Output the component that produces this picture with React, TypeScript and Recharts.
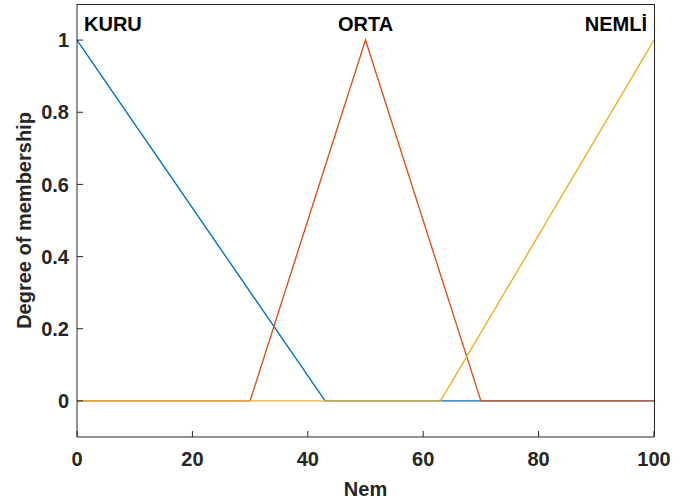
import React from 'react';
import { LineChart, Line, XAxis, YAxis, ReferenceDot, Label } from 'recharts';

// membership functions of "Nem" (breakpoints)
const kuruPoints = [
  { x: 0, y: 1 },
  { x: 43, y: 0 },
  { x: 100, y: 0 },
];
const ortaPoints = [
  { x: 0, y: 0 },
  { x: 30, y: 0 },
  { x: 50, y: 1 },
  { x: 70, y: 0 },
  { x: 100, y: 0 },
];
const nemliPoints = [
  { x: 0, y: 0 },
  { x: 63, y: 0 },
  { x: 100, y: 1 },
];

const mfNames = ['KURU', 'ORTA', 'NEML\u0130'];
const mfLabelX = [0, 50, 100];
const mfLabelAnchor = ['start', 'middle', 'end'];
const mfLabelY = 1.045;

const xDomain = [0, 100];
const yDomain = [-0.1, 1.1];
const xTicks = [0, 20, 40, 60, 80, 100];
const yTicks = [0, 0.2, 0.4, 0.6, 0.8, 1];

const INK = '#262626';
const FONT = '"Liberation Sans", Arial, Helvetica, sans-serif';

const W = 689;
const H = 501;
const MARGIN = { top: 4, right: 35, bottom: 0, left: 17 };
const Y_AXIS_W = 60;
const X_AXIS_H = 64;

export default function App() {
  const tickStyle = { fontSize: 20, fontWeight: 700, fill: INK, fontFamily: FONT };

  // plot box, used only for the top/right frame overlay
  const plotLeft = MARGIN.left + Y_AXIS_W;
  const plotTop = MARGIN.top;
  const plotW = W - plotLeft - MARGIN.right;
  const plotH = H - plotTop - X_AXIS_H - MARGIN.bottom;

  return (
    <div style={{ position: 'absolute', left: 0, top: 0, width: W, height: H, background: '#fff' }}>
      <LineChart width={W} height={H} margin={MARGIN}>
        <XAxis
          type="number"
          dataKey="x"
          domain={xDomain}
          ticks={xTicks}
          tickSize={-6}
          tickMargin={21}
          stroke={INK}
          tick={tickStyle}
          height={X_AXIS_H}
          allowDuplicatedCategory={false}
        >
          <Label
            content={(p: any) => (
              <text
                x={p.viewBox.x + p.viewBox.width / 2}
                y={p.viewBox.y + 59}
                textAnchor="middle"
                style={{ fontSize: 20, fontWeight: 700, fill: INK, fontFamily: FONT }}
              >
                Nem
              </text>
            )}
          />
        </XAxis>
        <YAxis
          type="number"
          domain={yDomain}
          ticks={yTicks}
          tickSize={-6}
          tickMargin={14}
          width={Y_AXIS_W}
          stroke={INK}
          tick={tickStyle}
        >
          <Label
            content={(p: any) => {
              const cx = 24;
              const cy = p.viewBox.y + p.viewBox.height / 2;
              return (
                <text
                  x={cx}
                  y={cy}
                  transform={`rotate(-90 ${cx} ${cy})`}
                  textAnchor="middle"
                  dominantBaseline="central"
                  style={{ fontSize: 20, fontWeight: 700, fill: INK, fontFamily: FONT }}
                >
                  Degree of membership
                </text>
              );
            }}
          />
        </YAxis>

        <Line data={kuruPoints} dataKey="y" stroke="#0072BD" strokeWidth={1.4} dot={false} isAnimationActive={false} />
        <Line data={ortaPoints} dataKey="y" stroke="#D95319" strokeWidth={1.4} dot={false} isAnimationActive={false} />
        <Line data={nemliPoints} dataKey="y" stroke="#EDB120" strokeWidth={1.4} dot={false} isAnimationActive={false} />

        {mfNames.map((name, i) => (
          <ReferenceDot
            key={name}
            x={mfLabelX[i]}
            y={mfLabelY}
            shape={(p: any) => (
              <text
                x={p.cx + (mfLabelAnchor[i] === 'start' ? 7 : mfLabelAnchor[i] === 'end' ? -7 : 0)}
                y={p.cy}
                textAnchor={mfLabelAnchor[i]}
                dominantBaseline="central"
                style={{ fontSize: 20, fontWeight: 700, fill: '#000', fontFamily: FONT }}
              >
                {name}
              </text>
            )}
          />
        ))}
      </LineChart>

      {/* top and right sides of the axes box */}
      <div
        style={{
          position: 'absolute',
          left: plotLeft,
          top: plotTop - 0.5,
          width: plotW + 0.5,
          height: plotH + 0.5,
          boxSizing: 'border-box',
          borderTop: `1px solid ${INK}`,
          borderRight: `1px solid ${INK}`,
          pointerEvents: 'none',
        }}
      />
    </div>
  );
}
